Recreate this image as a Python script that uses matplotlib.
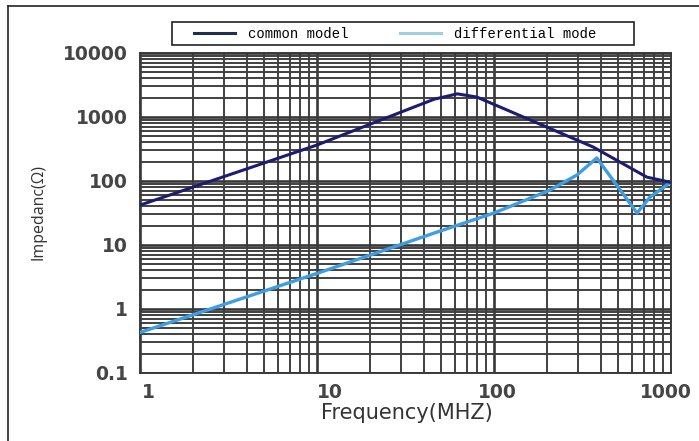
import matplotlib
matplotlib.use('Agg')
import matplotlib.pyplot as plt
import matplotlib.transforms as mtransforms
from matplotlib.lines import Line2D
from matplotlib.patches import Rectangle
from matplotlib.ticker import FixedLocator, FixedFormatter, LogLocator, NullFormatter

# data (frequency in MHz, impedance in ohm)
freq_common = [1, 10, 30, 46, 62, 80, 363, 730, 1000]
z_common = [42, 365, 1200, 1900, 2300, 2050, 340, 115, 95]

freq_diff = [1, 10, 46, 100, 207, 294, 381, 643, 760, 1000]
z_diff = [0.43, 3.6, 15.4, 31.6, 72, 124, 229, 31.6, 56, 96]

x_ticks = [1, 10, 100, 1000]
x_labels = ['1', '10', '100', '1000']
y_ticks = [0.1, 1, 10, 100, 1000, 10000]
y_labels = ['0.1', '1', '10', '100', '1000', '10000']

W, H = 699, 441
fig = plt.figure(figsize=(W / 100, H / 100), dpi=100)
ax = fig.add_axes([140 / W, 1 - 373 / H, (671 - 140) / W, (373 - 53) / H])

ax.plot(freq_common, z_common, color='#1c1c70', lw=2.2, zorder=5)
ax.plot(freq_diff, z_diff, color='#3f9de2', lw=2.4, zorder=4)

ax.set_xscale('log')
ax.set_yscale('log')
ax.set_xlim(1, 1000)
ax.set_ylim(0.1, 10000)

ax.xaxis.set_major_locator(FixedLocator(x_ticks))
ax.xaxis.set_major_formatter(FixedFormatter(x_labels))
ax.yaxis.set_major_locator(FixedLocator(y_ticks))
ax.yaxis.set_major_formatter(FixedFormatter(y_labels))
for axis in (ax.xaxis, ax.yaxis):
    axis.set_minor_locator(LogLocator(base=10, subs=range(2, 10), numticks=20))
    axis.set_minor_formatter(NullFormatter())

ax.grid(True, which='major', color='#383838', lw=1.9)
ax.grid(True, which='minor', color='#404040', lw=1.4)
ax.tick_params(which='both', length=0)
ax.tick_params(axis='y', pad=9, labelsize=13.5, labelcolor='#454545')
ax.tick_params(axis='x', pad=7, labelsize=13.5, labelcolor='#454545')
for lab in ax.get_xticklabels() + ax.get_yticklabels():
    lab.set_fontweight('bold')
# the x labels in the reference sit slightly off their grid lines
x_shift = [8, 13, 3, -5]
for lab, dx in zip(ax.get_xticklabels(), x_shift):
    lab.set_transform(lab.get_transform() +
                      mtransforms.ScaledTranslation(dx / 100, 0, fig.dpi_scale_trans))
for s in ax.spines.values():
    s.set_color('#3a3a3a')
    s.set_linewidth(1.4)

fig.text(38 / W, 1 - 212 / H, 'Impedanc(\u03a9)', rotation=90, ha='center', va='center',
         fontsize=11.5, family='Open Sans', color='#333333')
fig.text(407 / W, 1 - 413 / H, 'Frequency(MHZ)', ha='center', va='center',
         fontsize=15, family='DejaVu Sans', color='#333333')

# legend box above the plot
fig.add_artist(Rectangle((172 / W, 1 - 45 / H), (634 - 172) / W, 23 / H,
                         transform=fig.transFigure, fill=True, facecolor='white',
                         edgecolor='#222222', lw=1.2))
handles = [Line2D([], [], color='#1f2f4f', lw=2.2),
           Line2D([], [], color='#9fd0e2', lw=2.2)]
fig.legend(handles, ['common model', 'differential mode'], loc='center left',
           bbox_to_anchor=(187 / W, 1 - 33.5 / H), ncol=2, frameon=False,
           borderpad=0, handlelength=2.95, handletextpad=0.93, columnspacing=3.75,
           prop={'family': 'Liberation Mono', 'size': 10})

# outer frame (top and left edges visible)
fig.add_artist(Line2D([8 / W, 1], [1 - 6 / H, 1 - 6 / H], transform=fig.transFigure,
                      color='#222222', lw=1.2))
fig.add_artist(Line2D([8 / W, 8 / W], [0, 1 - 6 / H], transform=fig.transFigure,
                      color='#222222', lw=1.2))

fig.savefig('out.png', dpi=100)
